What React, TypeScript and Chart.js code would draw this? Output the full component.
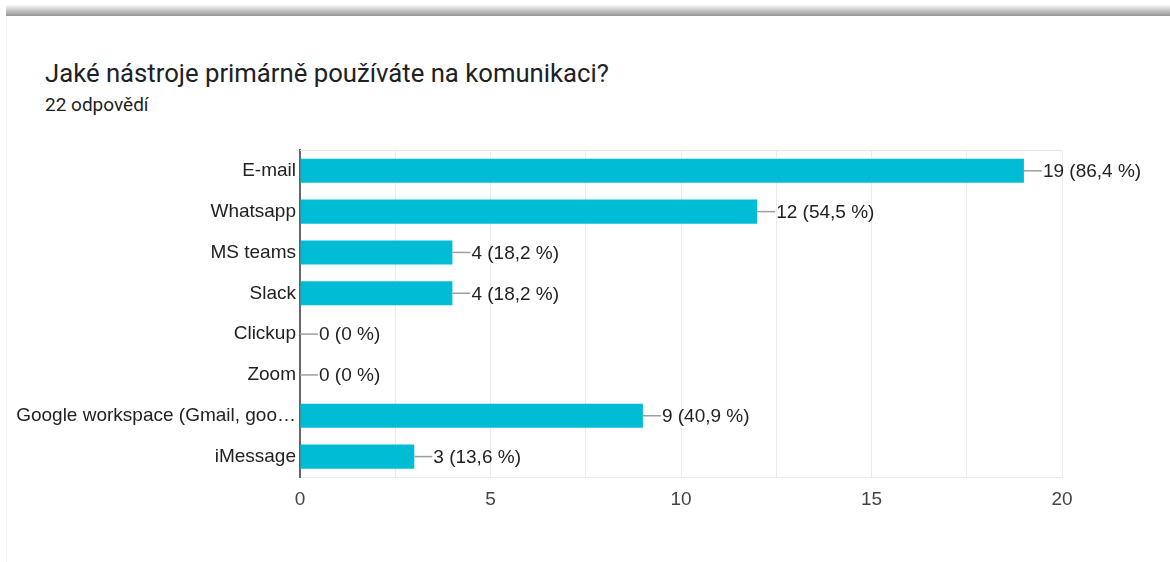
import React, { useEffect, useRef } from "react";
import { Chart, registerables } from "chart.js";

Chart.register(...registerables);

const TITLE = "Jaké nástroje primárně používáte na komunikaci?";
const SUBTITLE = "22 odpovědí";
const CATEGORIES = [
  "E-mail",
  "Whatsapp",
  "MS teams",
  "Slack",
  "Clickup",
  "Zoom",
  "Google workspace (Gmail, goo…",
  "iMessage",
];
const COUNTS = [19, 12, 4, 4, 0, 0, 9, 3];
const PERCENTS = ["86,4", "54,5", "18,2", "18,2", "0", "0", "40,9", "13,6"];
const X_TICKS = [0, 5, 10, 15, 20];

const FONT = "'Liberation Sans', Arial, sans-serif";

const valueLabels = {
  id: "valueLabels",
  afterDatasetsDraw(chart: any) {
    const ctx = chart.ctx;
    const area = chart.chartArea;
    ctx.save();
    // top border of plot
    ctx.strokeStyle = "#e6e6e6";
    ctx.lineWidth = 1;
    ctx.beginPath();
    ctx.moveTo(area.left, Math.round(area.top) + 0.5);
    ctx.lineTo(area.right, Math.round(area.top) + 0.5);
    ctx.stroke();

    const meta = chart.getDatasetMeta(0);
    ctx.font = `19px ${FONT}`;
    ctx.textBaseline = "middle";
    ctx.textAlign = "left";
    meta.data.forEach((bar: any, i: number) => {
      const x = bar.x;
      const y = bar.y;
      ctx.strokeStyle = "#9e9e9e";
      ctx.lineWidth = 1.5;
      ctx.beginPath();
      ctx.moveTo(x, y);
      ctx.lineTo(x + 18, y);
      ctx.stroke();
      ctx.fillStyle = "#222222";
      ctx.fillText(`${COUNTS[i]} (${PERCENTS[i]} %)`, x + 19, y + 1);
    });
    ctx.restore();
  },
};

export default function App() {
  const ref = useRef<HTMLCanvasElement>(null);

  useEffect(() => {
    document.body.style.margin = "0";
    const chart = new Chart(ref.current!, {
      type: "bar",
      data: {
        labels: CATEGORIES,
        datasets: [
          {
            data: COUNTS,
            backgroundColor: "#00bcd4",
            borderWidth: 0,
            categoryPercentage: 1,
            barPercentage: 0.59,
          },
        ],
      },
      options: {
        indexAxis: "y",
        animation: false,
        responsive: true,
        maintainAspectRatio: false,
        layout: { padding: { top: 5, right: 108, left: 0, bottom: 0 } },
        plugins: {
          legend: { display: false },
          tooltip: { enabled: false },
        },
        scales: {
          x: {
            min: 0,
            max: 20,
            ticks: {
              stepSize: 2.5,
              autoSkip: false,
              maxRotation: 0,
              padding: 11,
              color: "#444444",
              font: { family: FONT, size: 19 },
              callback: (v: any) => (X_TICKS.includes(Number(v)) ? String(v) : ""),
            },
            grid: { color: "#ebebeb", lineWidth: 1, drawTicks: false },
            border: { color: "#ebebeb", width: 1 },
            afterFit: (s: any) => {
              s.height = 40;
            },
          },
          y: {
            ticks: {
              padding: 4,
              color: "#222222",
              font: { family: FONT, size: 19 },
              autoSkip: false,
            },
            grid: { display: false, drawTicks: false },
            border: { color: "#666666", width: 2 },
            afterFit: (s: any) => {
              s.width = 300;
            },
          },
        },
      },
      plugins: [valueLabels],
    });
    return () => chart.destroy();
  }, []);

  return (
    <div
      style={{
        position: "absolute",
        left: 0,
        top: 0,
        width: 1170,
        height: 562,
        background: "#ffffff",
        overflow: "hidden",
      }}
    >
      <div
        style={{
          position: "absolute",
          left: 6,
          top: 5,
          right: 0,
          height: 11,
          background: "linear-gradient(to bottom, rgba(0,0,0,0.03), rgba(0,0,0,0.42))",
        }}
      />
      <div
        style={{
          position: "absolute",
          left: 6,
          top: 16,
          bottom: 0,
          width: 1,
          background: "#f3f3f3",
        }}
      />
      <div
        style={{
          position: "absolute",
          left: 45,
          top: 56,
          fontFamily: "Roboto, sans-serif",
          fontSize: 25.7,
          color: "#202124",
          whiteSpace: "nowrap",
          lineHeight: "34px",
        }}
      >
        {TITLE}
      </div>
      <div
        style={{
          position: "absolute",
          left: 45,
          top: 93,
          fontFamily: "Roboto, sans-serif",
          fontSize: 19,
          color: "#202124",
          whiteSpace: "nowrap",
          lineHeight: "24px",
        }}
      >
        {SUBTITLE}
      </div>
      <div
        style={{
          position: "absolute",
          left: 0,
          top: 135,
          width: 1170,
          height: 382,
        }}
      >
        <canvas ref={ref} />
      </div>
    </div>
  );
}
